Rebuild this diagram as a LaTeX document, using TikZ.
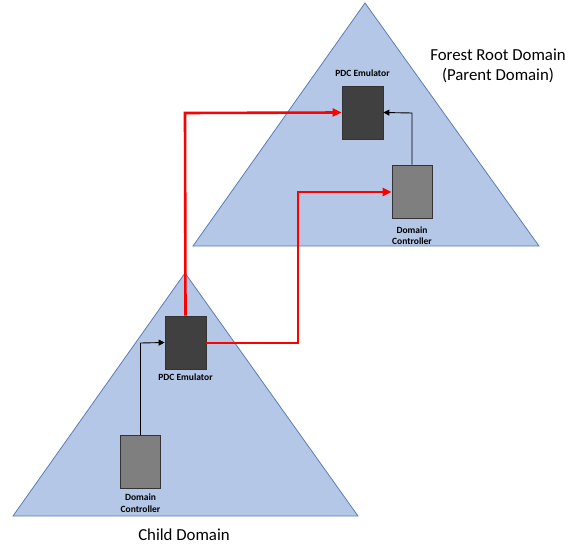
\documentclass[tikz,border=0pt]{standalone}
\usepackage{fontspec}
\setmainfont{Carlito}
\usetikzlibrary{arrows.meta}
\definecolor{tri}{HTML}{B4C7E7}
\definecolor{triline}{HTML}{5B7DB8}
\definecolor{pdc}{HTML}{404040}
\definecolor{dc}{HTML}{7F7F7F}
\begin{document}
\begin{tikzpicture}[x=1pt,y=-1pt,
  domaintri/.style={fill=tri,draw=triline,line width=0.8pt},
  pdcbox/.style={fill=pdc,draw=black!80,line width=0.8pt,minimum width=41pt,minimum height=53pt,inner sep=0pt},
  dcbox/.style={fill=dc,draw=black!80,line width=0.8pt,minimum width=40pt,minimum height=53pt,inner sep=0pt},
  small/.style={font=\fontsize{9.5}{11.5}\selectfont\bfseries,align=center,inner sep=0pt},
  big/.style={font=\fontsize{16.8}{20}\selectfont,align=center,inner sep=0pt},
  redarrow/.style={draw=red,line width=2.6pt,-{Triangle[length=9pt,width=8pt]}},
  blackarrow/.style={draw=black,line width=0.9pt,-{Triangle[length=6pt,width=6pt]}}]
\useasboundingbox (0,0) rectangle (572,545);
% triangles
\draw[domaintri] (365,3) -- (539,246) -- (193,246) -- cycle;
\draw[domaintri] (185,273) -- (358,516) -- (13,516) -- cycle;
% boxes
\node[pdcbox] (updc) at (362.5,112.5) {};
\node[dcbox] (udc) at (412,191.5) {};
\node[pdcbox] (lpdc) at (185.5,342.5) {};
\node[dcbox] (ldc) at (140.5,462) {};
% labels
\node[small] (updcl) at (362.5,73) {PDC Emulator};
\node[small] (udcl) at (412,235.5) {Domain\\Controller};
\node[small] (lpdcl) at (185.5,377) {PDC Emulator};
\node[small] (ldcl) at (140.5,503) {Domain\\Controller};
\node[big] (forest) at (498,66) {Forest Root Domain\\(Parent Domain)};
\node[big] (child) at (184,535) {Child Domain};
% connectors
\coordinate (b1) at (412,113);
\draw[blackarrow] (udc.north) -- (b1) -- (updc.east);
\coordinate (b2) at (140.5,343);
\draw[blackarrow] (ldc.north) -- (b2) -- (lpdc.west);
\coordinate (r1) at (185,113);
\draw[redarrow] (lpdc.north) -- (r1) -- (updc.west);
\coordinate (r2) at (298,343);
\coordinate (r3) at (298,192);
\draw[redarrow] (lpdc.east |- r2) -- (r2) -- (r3) -- (udc.west |- r3);
\end{tikzpicture}
\end{document}
